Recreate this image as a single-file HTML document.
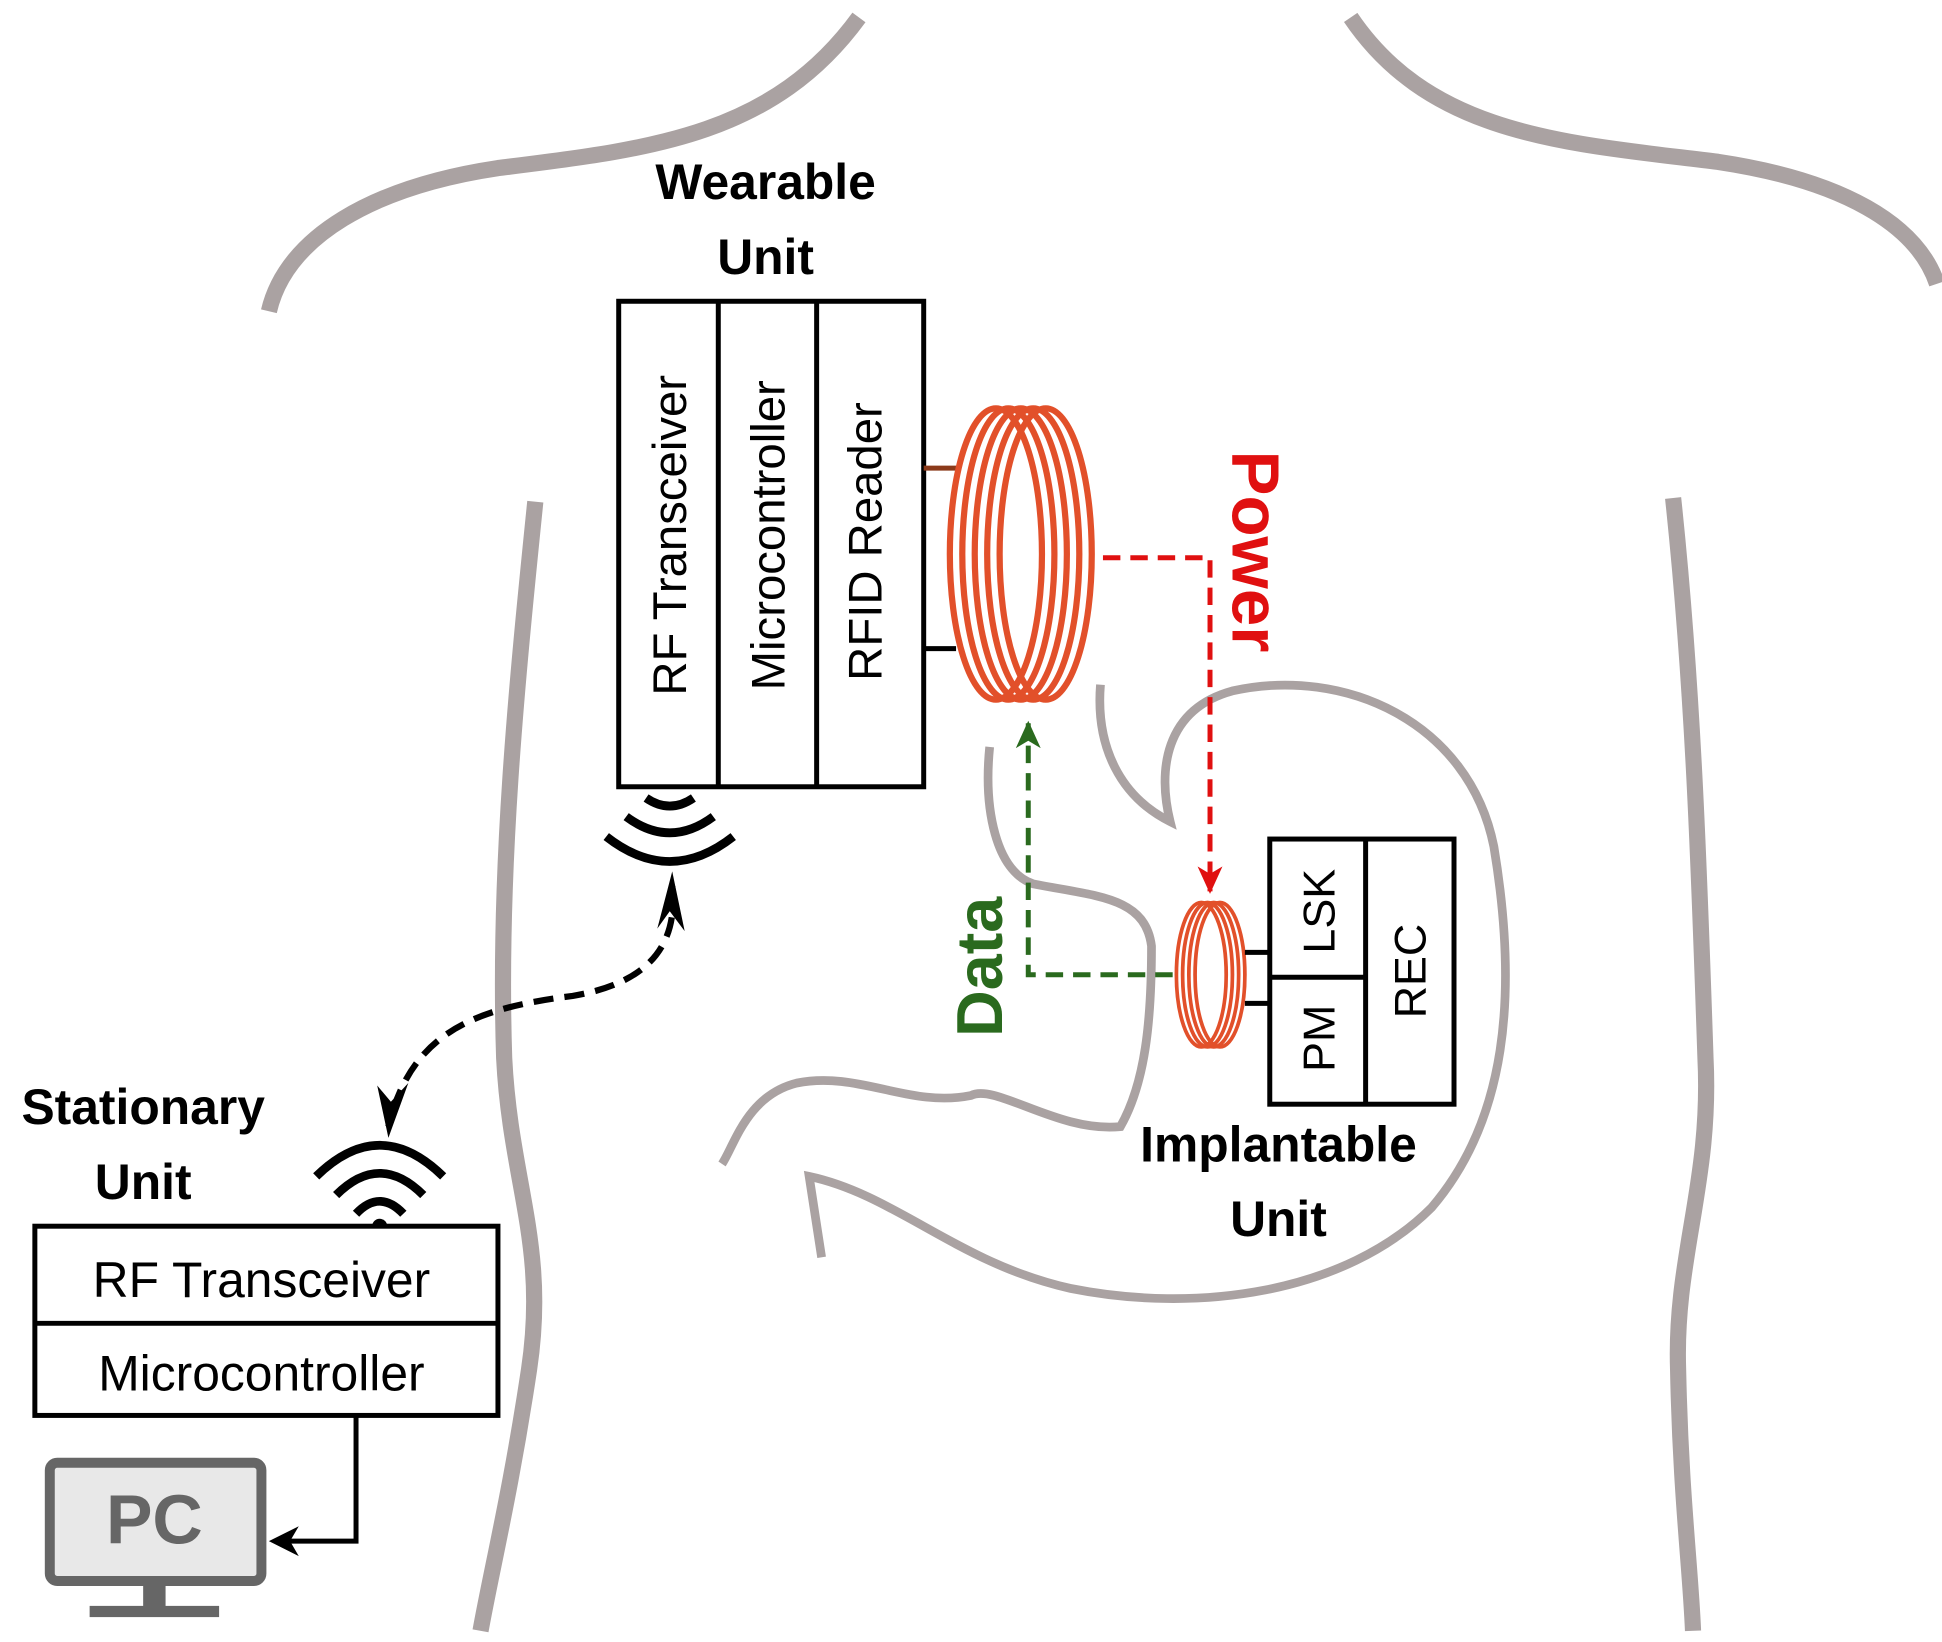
<!DOCTYPE html>
<html><head><style>
html,body{margin:0;padding:0;background:#fff;}
svg{display:block;}
text{font-family:"Liberation Sans",sans-serif;}
</style></head><body>
<svg width="1942" height="1642" viewBox="0 0 1560 1319" xmlns="http://www.w3.org/2000/svg">
<defs>
<marker id="ar" markerWidth="24" markerHeight="24" refX="20" refY="12" orient="auto" markerUnits="userSpaceOnUse"><path d="M0,2 L22,12 L0,22 L6,12 Z" fill="#e01010"/></marker>
<marker id="ag" markerWidth="24" markerHeight="24" refX="20" refY="12" orient="auto" markerUnits="userSpaceOnUse"><path d="M0,2 L22,12 L0,22 L6,12 Z" fill="#2a6a1e"/></marker>
</defs>
<g fill="none" stroke="#aaa2a2" stroke-width="13" stroke-linecap="butt">
<path d="M216,250 C230,190 300,150 400,135 C520,120 620,110 690,14"/>
<path d="M1085,14 C1150,110 1260,115 1380,130 C1480,145 1540,180 1556,228"/>
<path d="M430,403 C415,550 400,700 405,850 C410,950 440,1000 425,1100 C410,1200 395,1260 386,1310"/>
<path d="M1344,400 C1360,550 1365,700 1370,850 C1375,950 1345,1010 1348,1100 C1350,1200 1358,1260 1360,1310"/>
</g>
<g fill="none" stroke="#aaa2a2" stroke-width="7">
<path d="M884,550 C880,600 900,640 940,660 C930,620 935,570 990,555 C1080,535 1180,580 1200,680 C1220,800 1210,900 1150,970 C1080,1040 960,1055 860,1035 C770,1015 720,960 650,945 L660,1010"/>
<path d="M795,600 C790,650 800,700 830,710 C880,720 920,720 925,760 C925,820 920,870 900,905 C850,910 800,870 780,880 C730,890 690,860 640,870 C600,880 590,920 580,935"/>
</g>
<g stroke="#000" stroke-width="4" fill="#fff">
<rect x="497" y="242" width="245" height="390"/>
<line x1="577" y1="242" x2="577" y2="632"/>
<line x1="656" y1="242" x2="656" y2="632"/>
</g>
<g font-size="38" fill="#000">
<text transform="translate(551,430) rotate(-90)" text-anchor="middle">RF Transceiver</text>
<text transform="translate(630,430) rotate(-90)" text-anchor="middle">Microcontroller</text>
<text transform="translate(708,435) rotate(-90)" text-anchor="middle">RFID Reader</text>
</g>
<text x="615" y="160" font-size="40" font-weight="bold" text-anchor="middle">Wearable</text>
<text x="615" y="220" font-size="40" font-weight="bold" text-anchor="middle">Unit</text>
<line x1="742" y1="376" x2="768" y2="376" stroke="#8b3a1a" stroke-width="4"/>
<line x1="742" y1="521" x2="768" y2="521" stroke="#000" stroke-width="4"/>
<g fill="none" stroke="#e2502a" stroke-width="5">
<ellipse cx="800" cy="445" rx="37" ry="117"/>
<ellipse cx="810" cy="445" rx="37" ry="117"/>
<ellipse cx="820" cy="445" rx="37" ry="117"/>
<ellipse cx="830" cy="445" rx="37" ry="117"/>
<ellipse cx="840" cy="445" rx="37" ry="117"/>
</g>
<path d="M886,448 L972,448 L972,716" fill="none" stroke="#e01010" stroke-width="4" stroke-dasharray="14,8" marker-end="url(#ar)"/>
<text transform="translate(990,362) rotate(90)" font-size="54" font-weight="bold" fill="#e01010">Power</text>
<path d="M942,783 L826,783 L826,581" fill="none" stroke="#2a6a1e" stroke-width="4" stroke-dasharray="14,8" marker-end="url(#ag)"/>
<text transform="translate(805,833) rotate(-90)" font-size="52" font-weight="bold" fill="#2a6a1e">Data</text>
<g fill="none" stroke="#e2502a" stroke-width="3">
<ellipse cx="965" cy="783" rx="20" ry="58"/>
<ellipse cx="970" cy="783" rx="20" ry="58"/>
<ellipse cx="975" cy="783" rx="20" ry="58"/>
<ellipse cx="980" cy="783" rx="20" ry="58"/>
</g>
<line x1="1000" y1="765" x2="1020" y2="765" stroke="#000" stroke-width="4"/>
<line x1="1000" y1="806" x2="1020" y2="806" stroke="#000" stroke-width="4"/>
<g stroke="#000" stroke-width="4" fill="none">
<rect x="1020" y="674" width="148" height="213"/>
<line x1="1097" y1="674" x2="1097" y2="887"/>
<line x1="1020" y1="785" x2="1097" y2="785"/>
</g>
<g font-size="36" fill="#000">
<text transform="translate(1072,732) rotate(-90)" text-anchor="middle">LSK</text>
<text transform="translate(1072,834) rotate(-90)" text-anchor="middle">PM</text>
<text transform="translate(1145,780) rotate(-90)" text-anchor="middle">REC</text>
</g>
<text x="1027" y="933" font-size="40" font-weight="bold" text-anchor="middle">Implantable</text>
<text x="1027" y="993" font-size="40" font-weight="bold" text-anchor="middle">Unit</text>
<g fill="none" stroke="#000" stroke-width="7">
<path d="M487,672 Q538,712 589,672"/>
<path d="M503,656 Q538,682 573,656"/>
<path d="M519,641 Q538,654 557,641"/>
</g>
<path d="M540,712 C545,760 520,790 460,800 C380,810 330,830 312,905" fill="none" stroke="#000" stroke-width="5" stroke-dasharray="16,9"/>
<path d="M540,700 L528,746 L538,732 L550,748 Z" fill="#000"/>
<path d="M312,914 L303,872 L314,885 L328,870 Z" fill="#000"/>
<g fill="none" stroke="#000" stroke-width="7">
<path d="M254,945 Q305,895 356,945"/>
<path d="M270,960 Q305,925 340,960"/>
<path d="M286,975 Q305,955 324,975"/>
</g>
<circle cx="305" cy="985" r="6" fill="#000"/>
<text x="115" y="903" font-size="40" font-weight="bold" text-anchor="middle">Stationary</text>
<text x="115" y="963" font-size="40" font-weight="bold" text-anchor="middle">Unit</text>
<g stroke="#000" stroke-width="4" fill="#fff">
<rect x="28" y="985" width="372" height="152"/>
<line x1="28" y1="1063" x2="400" y2="1063"/>
</g>
<text x="210" y="1042" font-size="40" text-anchor="middle">RF Transceiver</text>
<text x="210" y="1117" font-size="40" text-anchor="middle">Microcontroller</text>
<path d="M286,1137 L286,1238 L228,1238" fill="none" stroke="#000" stroke-width="4"/>
<path d="M216,1238 L240,1226 L233,1238 L240,1250 Z" fill="#000"/>
<rect x="40" y="1175" width="170" height="95" rx="6" fill="#e8e8e8" stroke="#666" stroke-width="8"/>
<text x="124" y="1240" font-size="56" font-weight="bold" fill="#666" text-anchor="middle">PC</text>
<rect x="115" y="1274" width="18" height="18" fill="#666"/>
<rect x="72" y="1290" width="104" height="9" fill="#666"/>
</svg>
</body></html>
